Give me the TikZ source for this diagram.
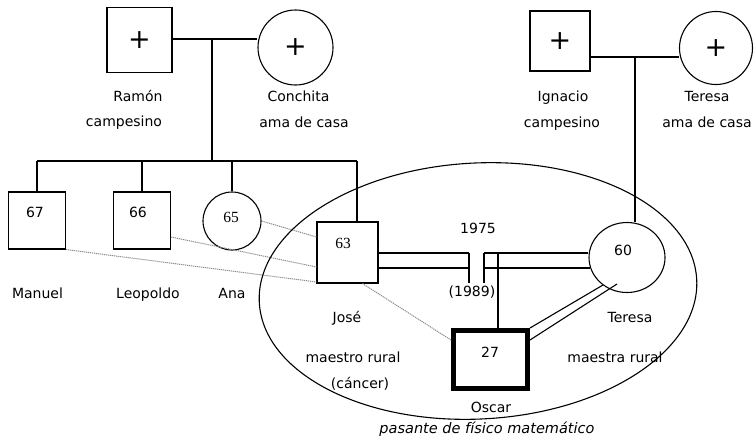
\documentclass[tikz,border=0pt]{standalone}
\usepackage{fontspec}
\newfontfamily\comic{DejaVu Sans}
\newfontfamily\serifnum{Liberation Serif}
\usetikzlibrary{shapes.geometric}
\tikzset{
  person/.style={draw, line width=1.1pt, inner sep=0pt, font=\comic\fontsize{27}{27}\selectfont},
  male/.style={person, rectangle, minimum size=#1},
  female/.style={person, circle, minimum size=#1},
  txt/.style={font=\comic\fontsize{14}{16}\selectfont, inner sep=0pt, anchor=base, yshift=-5pt},
  agesans/.style={font=\comic\fontsize{14}{16}\selectfont, inner sep=0pt, anchor=base, yshift=-5pt},
  ageserif/.style={font=\serifnum\fontsize{15.5}{16}\selectfont, inner sep=0pt, anchor=base, yshift=-5pt},
  rel/.style={line width=1.1pt},
  dotline/.style={black!45, line width=1pt, dash pattern=on 1.2pt off 0.8pt},
}
\begin{document}
\begin{tikzpicture}[x=1pt,y=-1pt]
\useasboundingbox (0,0) rectangle (754,439);

% grandparents
\node[male=65pt] (ramon) at (139.5,40) {+};
\node[female=75pt] (conchita) at (295.5,47.5) {+};
\node[male=60pt] (ignacio) at (560,41) {+};
\node[female=73pt] (teresagm) at (716,48) {+};

% siblings
\node[male=57pt] (manuel) at (37,220.5) {};
\node[male=57pt] (leopoldo) at (142,220.5) {};
\node[female=58pt] (ana) at (232,221) {};
\node[male=61pt] (jose) at (347.5,252.5) {};
\node[person, ellipse, minimum width=76pt, minimum height=70pt] (teresa) at (627,257.5) {};
\node[person, rectangle, line width=5pt, minimum width=74pt, minimum height=58pt] (oscar) at (490.5,359.5) {};

% ages
\node[agesans] (amanuel) at (35,212) {67};
\node[agesans] (aleopoldo) at (138,212) {66};
\node[ageserif] (aana) at (231,217) {65};
\node[ageserif] (ajose) at (343,243) {63};
\node[agesans] (ateresa) at (623,250) {60};
\node[agesans] (aoscar) at (490,352) {27};

% couple Ramón–Conchita
\coordinate (m1) at (212,39);
\coordinate (sib) at (212,161);
\coordinate (jd) at (357,161);
\draw[rel] (ramon.east |- m1) -- (m1) -- (m1 -| conchita.west);
\draw[rel] (m1) -- (sib);
\draw[rel] (manuel.north |- sib) -- (jd);
\draw[rel] (manuel.north |- sib) -- (manuel.north);
\draw[rel] (leopoldo.north |- sib) -- (leopoldo.north);
\draw[rel] (ana.north |- sib) -- (ana.north);
\draw[rel] (jd) -- (jd |- jose.north);

% couple Ignacio–Teresa
\coordinate (m2) at (635,57);
\draw[rel] (ignacio.east |- m2) -- (m2) -- (m2 -| teresagm.west);
\draw[rel] (m2) -- (m2 |- teresa.north);

% couple José–Teresa (divorced)
\coordinate (b1) at (469,253);
\coordinate (b2) at (484,253);
\coordinate (b3) at (469,268);
\coordinate (b4) at (484,268);
\coordinate (c) at (498,253);
\draw[rel] (jose.east |- b1) -- (b1);
\draw[rel] (b2) -- (b2 -| teresa.west);
\draw[rel] (jose.east |- b3) -- (b3);
\draw[rel] (b4) -- ([xshift=1.5pt]b4 -| teresa.west);
\draw[rel] (b1) -- ([yshift=-30pt]b1);
\draw[rel] (b2) -- ([yshift=-30pt]b2);
\draw[rel] (c) -- (c |- oscar.north);

% Oscar–Teresa
\coordinate (tb1) at (603,285);
\coordinate (tb2) at (617,284);
\draw[rel] (oscar.north east) -- (tb1);
\draw[rel] ([yshift=-12pt]oscar.north east) -- (tb2);

% dotted relations
\draw[dotline] (ana.east) -- ([yshift=15.5pt]jose.west);
\draw[dotline] ([yshift=-16.5pt]leopoldo.east) -- ([yshift=-14.5pt]jose.west);
\draw[dotline] (manuel.south east) -- ([yshift=-29.5pt]jose.west);
\draw[dotline] ([xshift=15pt]jose.south) -- ([yshift=19.5pt]oscar.west);

% household ellipse
\coordinate (bigc) at (478,291);
\begin{scope}[shift={(bigc)}, rotate=3]
\draw[line width=1.1pt] (0,0) ellipse [x radius=219pt, y radius=128pt];
\end{scope}

% labels
\node[txt] (lramon) at (138,96) {Ramón};
\node[txt] (lramonocc) at (124,121) {campesino};
\node[txt] (lconchita) at (298.5,96) {Conchita};
\node[txt] (lconchitaocc) at (304,122) {ama de casa};
\node[txt] (lignacio) at (563,96) {Ignacio};
\node[txt] (lignacioocc) at (562,122) {campesino};
\node[txt] (ltgm) at (707,96) {Teresa};
\node[txt] (ltgmocc) at (707,122) {ama de casa};
\node[txt] (lmanuel) at (37.5,293) {Manuel};
\node[txt] (lleopoldo) at (148,293) {Leopoldo};
\node[txt] (lana) at (232,293) {Ana};
\node[txt] (ljose) at (347,317) {José};
\node[txt] (ljoseocc) at (353,357) {maestro rural};
\node[txt] (ljosenote) at (360,383) {(cáncer)};
\node[txt] (lteresa) at (630,317) {Teresa};
\node[txt] (lteresaocc) at (615,357) {maestra rural};
\node[txt] (loscar) at (491,407) {Oscar};
\node[txt, font=\comic\itshape\fontsize{14.5}{16}\selectfont] (loscarocc) at (487,428) {pasante de físico matemático};
\node[txt] (l1975) at (478,228) {1975};
\node[txt] (l1989) at (472,291) {(1989)};
\end{tikzpicture}
\end{document}
